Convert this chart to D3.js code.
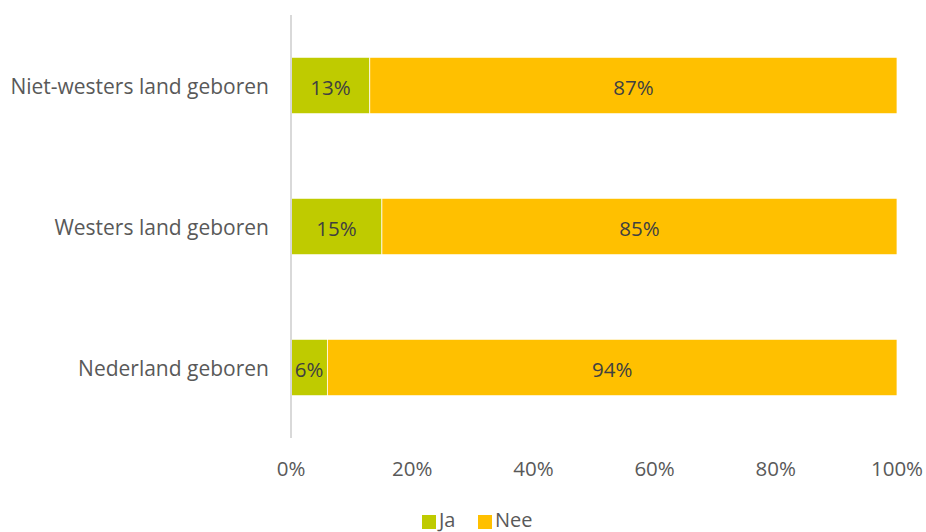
<!DOCTYPE html>
<html><head><meta charset="utf-8">
<script src="https://cdn.jsdelivr.net/npm/d3@7"></script>
<style>body{margin:0;background:#fff}svg text{font-family:"Open Sans",sans-serif;fill:#595959}</style>
</head><body><svg id="c" width="926" height="532"></svg>
<script>
const categories = ["Niet-westers land geboren","Westers land geboren","Nederland geboren"];
const seriesNames = ["Ja","Nee"];
const ja = [13,15,6];
const nee = [87,85,94];
const ticks = [0,20,40,60,80,100];
const colors = ["#bfcb00","#ffc000"];

const svg = d3.select("#c");
const x = d3.scaleLinear().domain([0,100]).range([291,897]);
const y = d3.scaleBand().domain(categories).range([15,438]).paddingInner(0.6).paddingOuter(0.3);

const data = categories.map((c,i)=>({cat:c, Ja:ja[i], Nee:nee[i]}));
const stack = d3.stack().keys(seriesNames)(data);

stack.forEach((s,si)=>{
  svg.append("g").selectAll("rect").data(s).join("rect")
    .attr("x",d=>x(d[0])).attr("width",d=>x(d[1])-x(d[0]))
    .attr("y",d=>y(d.data.cat)).attr("height",y.bandwidth())
    .attr("fill",colors[si]).attr("stroke","#fff").attr("stroke-width",0.75);
  svg.append("g").selectAll("text").data(s).join("text")
    .attr("x",d=>(x(d[0])+x(d[1]))/2).attr("y",d=>y(d.data.cat)+y.bandwidth()/2+1)
    .attr("text-anchor","middle").attr("dominant-baseline","central")
    .style("font-size","20.5px").style("fill","#404040")
    .text(d=>(d[1]-d[0])+"%");
});

svg.append("line").attr("x1",291).attr("x2",291).attr("y1",15).attr("y2",438)
  .attr("stroke","#d9d9d9").attr("stroke-width",2);

svg.append("g").selectAll("text").data(categories).join("text")
  .attr("x",269).attr("y",d=>y(d)+y.bandwidth()/2)
  .attr("text-anchor","end").attr("dominant-baseline","central")
  .style("font-size","21px").text(d=>d);

svg.append("g").selectAll("text").data(ticks).join("text")
  .attr("x",d=>x(d)).attr("y",468).attr("text-anchor","middle").attr("dominant-baseline","central")
  .style("font-size","20.5px").text(d=>d+"%");

const lg = svg.append("g");
const lx = [422,478];
seriesNames.forEach((n,i)=>{
  lg.append("rect").attr("x",lx[i]).attr("y",515).attr("width",14).attr("height",14).attr("fill",colors[i]);
  lg.append("text").attr("x",lx[i]+17).attr("y",519).attr("dominant-baseline","central")
    .style("font-size","20px").text(n);
});
</script></body></html>
